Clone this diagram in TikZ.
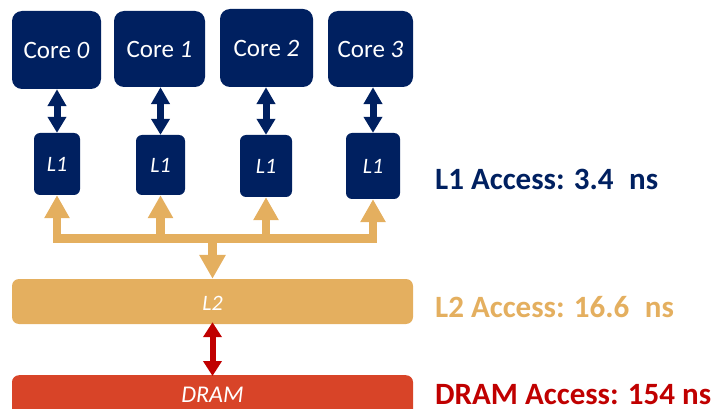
\documentclass[tikz,border=0pt]{standalone}
\usepackage{fontspec}
\setmainfont{Carlito}
\usetikzlibrary{arrows.meta}
\definecolor{navy}{RGB}{0,32,96}
\definecolor{gold}{RGB}{228,175,95}
\definecolor{brick}{RGB}{216,68,40}
\definecolor{darkred}{RGB}{192,0,0}
\tikzset{
  corebox/.style={fill=navy, rounded corners=10pt, text=white, inner sep=0pt,
    font=\fontsize{25}{28}\selectfont},
  cachebox/.style={fill=navy, rounded corners=6pt, text=white, inner sep=0pt,
    font=\fontsize{22}{26}\selectfont\itshape},
  bigbox/.style={rounded corners=7pt, text=white, inner sep=0pt,
    font=\fontsize{24}{28}\selectfont\itshape},
  navyarrow/.style={draw=navy, line width=7pt,
    {Triangle[width=18pt,length=17pt]}-{Triangle[width=18pt,length=16pt]}},
  busline/.style={draw=gold, line width=8.5pt, line join=miter},
  bushead/.tip={Triangle[width=24pt,length=23pt]},
  redarrow/.style={draw=darkred, line width=6pt,
    {Triangle[width=18pt,length=15pt]}-{Triangle[width=18pt,length=15pt]}},
  latency/.style={anchor=base west, inner sep=0pt,
    font=\fontsize{31}{36}\selectfont\bfseries}
}
\begin{document}
\begin{tikzpicture}[x=1pt,y=-1pt]
  \useasboundingbox (0,0) rectangle (721,409);
  \clip (0,0) rectangle (721,409);

  % cores
  \node[corebox, minimum width=89pt, minimum height=78pt] (c0) at (56.5,50) {Core \textit{0}};
  \node[corebox, minimum width=91pt, minimum height=76pt] (c1) at (159.5,49) {Core \textit{1}};
  \node[corebox, minimum width=93pt, minimum height=78pt] (c2) at (266.5,48) {Core \textit{2}};
  \node[corebox, minimum width=85pt, minimum height=76pt] (c3) at (370.5,49) {Core \textit{3}};

  % private L1 caches
  \node[cachebox, minimum width=46pt, minimum height=62pt] (l1a) at (57,164) {L1};
  \node[cachebox, minimum width=49pt, minimum height=60pt] (l1b) at (160.5,165) {L1};
  \node[cachebox, minimum width=52pt, minimum height=62pt] (l1c) at (266,166) {L1};
  \node[cachebox, minimum width=54pt, minimum height=66pt] (l1d) at (373,166) {L1};

  % shared L2 and memory
  \node[bigbox, fill=gold, minimum width=401pt, minimum height=45pt] (l2) at (212.5,301.5) {};
  \node[text=white, font=\fontsize{22}{26}\selectfont\itshape, inner sep=0pt] (l2t) at (212.5,303.5) {L2};
  \node[bigbox, fill=brick, minimum width=401pt, minimum height=60pt, anchor=north] (dram) at (212.5,375) {};
  \node[text=white, font=\fontsize{24}{28}\selectfont\itshape, inner sep=0pt] (dramt) at (212.5,395) {DRAM};

  % core <-> L1 links
  \draw[navyarrow] (l1a.north |- c0.south) -- (l1a.north);
  \draw[navyarrow] (l1b.north |- c1.south) -- (l1b.north);
  \draw[navyarrow] (l1c.north |- c2.south) -- (l1c.north);
  \draw[navyarrow] (l1d.north |- c3.south) -- (l1d.north);

  % L1 <-> L2 bus
  \coordinate (bus) at (0,238.5);
  \draw[busline, bushead-bushead] (l1a.south) -- (l1a.south |- bus) -- (l1d.south |- bus) -- (l1d.south);
  \draw[busline, -bushead] (l1b.south |- bus) -- (l1b.south);
  \draw[busline, -bushead] (l1c.south |- bus) -- (l1c.south);
  \draw[busline, -{Triangle[width=25pt,length=24pt]}] (l2.north |- bus) -- (l2.north);

  % L2 <-> DRAM link
  \draw[redarrow] ([yshift=2pt]l2.south) -- ([yshift=-1pt]dram.north);

  % access latencies
  \node[latency, text=navy] (lat1) at (435,190) {L1 Access: 3.4\hspace{0.5em}ns};
  \node[latency, text=gold] (lat2) at (435,317) {L2 Access: 16.6\hspace{0.5em}ns};
  \node[latency, text=darkred] (lat3) at (435,404) {DRAM Access: 154 ns};
\end{tikzpicture}
\end{document}
